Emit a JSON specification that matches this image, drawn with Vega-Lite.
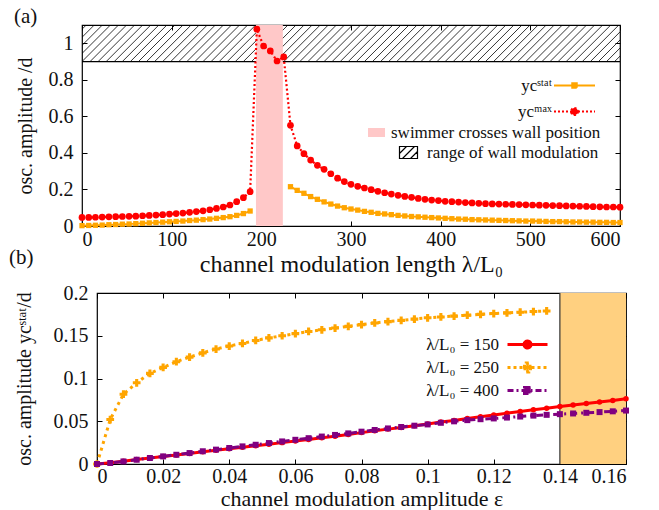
{
  "$schema": "https://vega.github.io/schema/vega-lite/v6.json",
  "padding": {"left": 8, "top": 4, "right": 5, "bottom": 0},
  "background": "white",
  "config": {
    "font": "Liberation Serif",
    "style": {"guide-label": {"font": "Liberation Serif", "fontSize": 20, "fill": "#111"}, "guide-title": {"font": "Liberation Serif"}},
    "view": {"stroke": "black", "strokeWidth": 1.2},
    "axis": {"domain": false, "grid": false, "ticks": true, "tickSize": -5, "tickColor": "black", "tickWidth": 1,
             "labelFont": "Liberation Serif", "labelFontSize": 20, "labelColor": "#111",
             "titleFont": "Liberation Serif", "titleFontSize": 22, "titleFontWeight": "normal", "titleColor": "#111"},
    "legend": {"labelFont": "Liberation Serif", "labelFontSize": 17, "labelColor": "#111", "labelLimit": 500, "padding": 0, "symbolSize": 100, "symbolStrokeWidth": 2, "title": null}
  },
  "datasets": {
    "hatch": [{"l":-36},{"l":-27},{"l":-18},{"l":-9},{"l":0},{"l":9},{"l":18},{"l":27},{"l":36},{"l":45},{"l":54},{"l":63},{"l":72},{"l":81},{"l":90},{"l":99},{"l":108},{"l":117},{"l":126},{"l":135},{"l":144},{"l":153},{"l":162},{"l":171},{"l":180},{"l":189},{"l":198},{"l":207},{"l":216},{"l":225},{"l":234},{"l":243},{"l":252},{"l":261},{"l":270},{"l":279},{"l":288},{"l":297},{"l":306},{"l":315},{"l":324},{"l":333},{"l":342},{"l":351},{"l":360},{"l":369},{"l":378},{"l":387},{"l":396},{"l":405},{"l":414},{"l":423},{"l":432},{"l":441},{"l":450},{"l":459},{"l":468},{"l":477},{"l":486},{"l":495},{"l":504},{"l":513},{"l":522},{"l":531},{"l":540},{"l":549},{"l":558},{"l":567},{"l":576},{"l":585},{"l":594}],
    "a_max": [{"l":0,"v":0.047},{"l":7.5,"v":0.047},{"l":15,"v":0.048},{"l":22.5,"v":0.049},{"l":30,"v":0.05},{"l":37.5,"v":0.051},{"l":45,"v":0.052},{"l":52.5,"v":0.053},{"l":60,"v":0.054},{"l":67.5,"v":0.056},{"l":75,"v":0.058},{"l":82.5,"v":0.06},{"l":90,"v":0.062},{"l":97.5,"v":0.065},{"l":105,"v":0.068},{"l":112.5,"v":0.071},{"l":120,"v":0.075},{"l":127.5,"v":0.079},{"l":135,"v":0.083},{"l":142.5,"v":0.089},{"l":150,"v":0.096},{"l":157.5,"v":0.104},{"l":165,"v":0.115},{"l":172.5,"v":0.133},{"l":180,"v":0.155},{"l":187.5,"v":0.188},{"l":195,"v":1.077},{"l":202.5,"v":0.985},{"l":210,"v":0.958},{"l":217.5,"v":0.903},{"l":225,"v":0.925},{"l":232.5,"v":0.551},{"l":240,"v":0.438},{"l":247.5,"v":0.396},{"l":255,"v":0.361},{"l":262.5,"v":0.332},{"l":270,"v":0.31},{"l":277.5,"v":0.286},{"l":285,"v":0.262},{"l":292.5,"v":0.243},{"l":300,"v":0.228},{"l":307.5,"v":0.217},{"l":315,"v":0.208},{"l":322.5,"v":0.199},{"l":330,"v":0.19},{"l":337.5,"v":0.182},{"l":345,"v":0.175},{"l":352.5,"v":0.168},{"l":360,"v":0.162},{"l":367.5,"v":0.157},{"l":375,"v":0.151},{"l":382.5,"v":0.146},{"l":390,"v":0.142},{"l":397.5,"v":0.139},{"l":405,"v":0.135},{"l":412.5,"v":0.133},{"l":420,"v":0.131},{"l":427.5,"v":0.128},{"l":435,"v":0.126},{"l":442.5,"v":0.124},{"l":450,"v":0.122},{"l":457.5,"v":0.121},{"l":465,"v":0.12},{"l":472.5,"v":0.119},{"l":480,"v":0.118},{"l":487.5,"v":0.117},{"l":495,"v":0.116},{"l":502.5,"v":0.115},{"l":510,"v":0.114},{"l":517.5,"v":0.113},{"l":525,"v":0.112},{"l":532.5,"v":0.111},{"l":540,"v":0.11},{"l":547.5,"v":0.109},{"l":555,"v":0.108},{"l":562.5,"v":0.107},{"l":570,"v":0.106},{"l":577.5,"v":0.105},{"l":585,"v":0.104},{"l":592.5,"v":0.104},{"l":600,"v":0.103}],
    "a_stat": [{"l":0,"v":0.002,"seg":1},{"l":7.5,"v":0.003,"seg":1},{"l":15,"v":0.004,"seg":1},{"l":22.5,"v":0.005,"seg":1},{"l":30,"v":0.007,"seg":1},{"l":37.5,"v":0.008,"seg":1},{"l":45,"v":0.01,"seg":1},{"l":52.5,"v":0.011,"seg":1},{"l":60,"v":0.013,"seg":1},{"l":67.5,"v":0.015,"seg":1},{"l":75,"v":0.017,"seg":1},{"l":82.5,"v":0.019,"seg":1},{"l":90,"v":0.021,"seg":1},{"l":97.5,"v":0.023,"seg":1},{"l":105,"v":0.025,"seg":1},{"l":112.5,"v":0.027,"seg":1},{"l":120,"v":0.03,"seg":1},{"l":127.5,"v":0.032,"seg":1},{"l":135,"v":0.035,"seg":1},{"l":142.5,"v":0.038,"seg":1},{"l":150,"v":0.042,"seg":1},{"l":157.5,"v":0.046,"seg":1},{"l":165,"v":0.051,"seg":1},{"l":172.5,"v":0.058,"seg":1},{"l":180,"v":0.068,"seg":1},{"l":187.5,"v":0.082,"seg":1},
      {"l":232.5,"v":0.215,"seg":2},{"l":240,"v":0.195,"seg":2},{"l":247.5,"v":0.179,"seg":2},{"l":255,"v":0.161,"seg":2},{"l":262.5,"v":0.146,"seg":2},{"l":270,"v":0.132,"seg":2},{"l":277.5,"v":0.12,"seg":2},{"l":285,"v":0.109,"seg":2},{"l":292.5,"v":0.1,"seg":2},{"l":300,"v":0.093,"seg":2},{"l":307.5,"v":0.087,"seg":2},{"l":315,"v":0.08,"seg":2},{"l":322.5,"v":0.075,"seg":2},{"l":330,"v":0.069,"seg":2},{"l":337.5,"v":0.066,"seg":2},{"l":345,"v":0.062,"seg":2},{"l":352.5,"v":0.058,"seg":2},{"l":360,"v":0.055,"seg":2},{"l":367.5,"v":0.052,"seg":2},{"l":375,"v":0.05,"seg":2},{"l":382.5,"v":0.048,"seg":2},{"l":390,"v":0.046,"seg":2},{"l":397.5,"v":0.044,"seg":2},{"l":405,"v":0.042,"seg":2},{"l":412.5,"v":0.04,"seg":2},{"l":420,"v":0.038,"seg":2},{"l":427.5,"v":0.037,"seg":2},{"l":435,"v":0.035,"seg":2},{"l":442.5,"v":0.034,"seg":2},{"l":450,"v":0.033,"seg":2},{"l":457.5,"v":0.032,"seg":2},{"l":465,"v":0.031,"seg":2},{"l":472.5,"v":0.03,"seg":2},{"l":480,"v":0.029,"seg":2},{"l":487.5,"v":0.028,"seg":2},{"l":495,"v":0.027,"seg":2},{"l":502.5,"v":0.027,"seg":2},{"l":510,"v":0.026,"seg":2},{"l":517.5,"v":0.025,"seg":2},{"l":525,"v":0.024,"seg":2},{"l":532.5,"v":0.024,"seg":2},{"l":540,"v":0.023,"seg":2},{"l":547.5,"v":0.022,"seg":2},{"l":555,"v":0.022,"seg":2},{"l":562.5,"v":0.021,"seg":2},{"l":570,"v":0.021,"seg":2},{"l":577.5,"v":0.02,"seg":2},{"l":585,"v":0.02,"seg":2},{"l":592.5,"v":0.019,"seg":2},{"l":600,"v":0.019,"seg":2}],
    "b150": [{"e":0,"v":0},{"e":0.004,"v":0.0015},{"e":0.008,"v":0.0033},{"e":0.012,"v":0.0052},{"e":0.016,"v":0.007},{"e":0.02,"v":0.0088},{"e":0.024,"v":0.0106},{"e":0.028,"v":0.0124},{"e":0.032,"v":0.0142},{"e":0.036,"v":0.016},{"e":0.04,"v":0.0178},{"e":0.044,"v":0.0196},{"e":0.048,"v":0.0214},{"e":0.052,"v":0.0232},{"e":0.056,"v":0.025},{"e":0.06,"v":0.0268},{"e":0.064,"v":0.0287},{"e":0.068,"v":0.0306},{"e":0.072,"v":0.0325},{"e":0.076,"v":0.0345},{"e":0.08,"v":0.0367},{"e":0.084,"v":0.0388},{"e":0.088,"v":0.0408},{"e":0.092,"v":0.0428},{"e":0.096,"v":0.0448},{"e":0.1,"v":0.0469},{"e":0.104,"v":0.049},{"e":0.108,"v":0.051},{"e":0.112,"v":0.0531},{"e":0.116,"v":0.0552},{"e":0.12,"v":0.0573},{"e":0.124,"v":0.0594},{"e":0.128,"v":0.0614},{"e":0.132,"v":0.0634},{"e":0.136,"v":0.0653},{"e":0.14,"v":0.0672},{"e":0.144,"v":0.069},{"e":0.148,"v":0.0708},{"e":0.152,"v":0.0726},{"e":0.156,"v":0.0744},{"e":0.16,"v":0.0762}],
    "b250": [{"e":0,"v":0},{"e":0.004,"v":0.052},{"e":0.008,"v":0.0816},{"e":0.012,"v":0.095},{"e":0.016,"v":0.106},{"e":0.02,"v":0.113},{"e":0.024,"v":0.1196},{"e":0.028,"v":0.125},{"e":0.032,"v":0.13},{"e":0.036,"v":0.1345},{"e":0.04,"v":0.138},{"e":0.044,"v":0.141},{"e":0.048,"v":0.1445},{"e":0.052,"v":0.1475},{"e":0.056,"v":0.15},{"e":0.06,"v":0.1525},{"e":0.064,"v":0.155},{"e":0.068,"v":0.157},{"e":0.072,"v":0.159},{"e":0.076,"v":0.161},{"e":0.08,"v":0.163},{"e":0.084,"v":0.165},{"e":0.088,"v":0.1665},{"e":0.092,"v":0.168},{"e":0.096,"v":0.1695},{"e":0.1,"v":0.171},{"e":0.104,"v":0.172},{"e":0.108,"v":0.173},{"e":0.112,"v":0.174},{"e":0.116,"v":0.175},{"e":0.12,"v":0.176},{"e":0.124,"v":0.1768},{"e":0.128,"v":0.1775},{"e":0.132,"v":0.1783},{"e":0.136,"v":0.179}],
    "b400": [{"e":0,"v":0},{"e":0.004,"v":0.0012},{"e":0.008,"v":0.003},{"e":0.012,"v":0.005},{"e":0.016,"v":0.007},{"e":0.02,"v":0.0089},{"e":0.024,"v":0.0108},{"e":0.028,"v":0.0128},{"e":0.032,"v":0.0149},{"e":0.036,"v":0.0168},{"e":0.04,"v":0.0187},{"e":0.044,"v":0.0206},{"e":0.048,"v":0.0225},{"e":0.052,"v":0.0245},{"e":0.056,"v":0.0264},{"e":0.06,"v":0.0283},{"e":0.064,"v":0.0302},{"e":0.068,"v":0.0321},{"e":0.072,"v":0.034},{"e":0.076,"v":0.0358},{"e":0.08,"v":0.0378},{"e":0.084,"v":0.0398},{"e":0.088,"v":0.0416},{"e":0.092,"v":0.0433},{"e":0.096,"v":0.0448},{"e":0.1,"v":0.0463},{"e":0.104,"v":0.0482},{"e":0.108,"v":0.0499},{"e":0.112,"v":0.0513},{"e":0.116,"v":0.0524},{"e":0.12,"v":0.0533},{"e":0.124,"v":0.0543},{"e":0.128,"v":0.0555},{"e":0.132,"v":0.0566},{"e":0.136,"v":0.0575},{"e":0.14,"v":0.0583},{"e":0.144,"v":0.0591},{"e":0.148,"v":0.0599},{"e":0.152,"v":0.0607},{"e":0.156,"v":0.0616},{"e":0.16,"v":0.0625}]
  },
  "bounds": "flush",
  "spacing": 67,
  "vconcat": [
    {
      "width": 538, "height": 201,
      "title": {"text": "(a)", "anchor": "start", "frame": "group", "dx": -68, "offset": -19, "baseline": "alphabetic", "fontSize": 21, "fontWeight": "normal", "font": "Liberation Serif", "color": "#111"},
      "resolve": {"scale": {"shape": "independent", "fill": "independent", "stroke": "independent", "strokeDash": "independent"}, "axis": {"x": "independent", "y": "independent"}},
      "layer": [
        {"data": {"name": "hatch"}, "mark": {"type": "rule", "clip": true, "x2Offset": 36.5, "color": "#000", "strokeWidth": 0.8},
         "encoding": {"x": {"field": "l", "type": "quantitative", "scale": {"domain": [0, 600], "nice": false, "zero": false}, "axis": null},
                      "x2": {"field": "l"},
                      "y": {"datum": 0.9, "type": "quantitative", "scale": {"domain": [0, 1.1], "nice": false}, "axis": null},
                      "y2": {"datum": 1.1}}},
        {"data": {"values": [{"z": 0}]}, "mark": {"type": "rule", "color": "#000", "strokeWidth": 1.2},
         "encoding": {"y": {"datum": 0.9, "type": "quantitative", "scale": {"domain": [0, 1.1], "nice": false}, "axis": null}}},
        {"data": {"values": [{"l": 194, "l2": 224}]}, "mark": {"type": "rect", "color": "#FFC8C8", "opacity": 1},
         "encoding": {"x": {"field": "l", "type": "quantitative", "scale": {"domain": [0, 600], "nice": false}, "axis": null},
                      "x2": {"field": "l2"},
                      "y": {"datum": 0, "type": "quantitative", "scale": {"domain": [0, 1.1], "nice": false}, "axis": null},
                      "y2": {"datum": 1.1}}},
        {"data": {"name": "a_stat"}, "mark": {"type": "line", "color": "#FFA500", "strokeWidth": 2},
         "encoding": {"x": {"field": "l", "type": "quantitative", "scale": {"domain": [0, 600], "nice": false}, "axis": null},
                      "y": {"field": "v", "type": "quantitative", "scale": {"domain": [0, 1.1], "nice": false}, "axis": null},
                      "detail": {"field": "seg", "type": "nominal"}}},
        {"data": {"name": "a_stat"}, "mark": {"type": "point", "shape": "square", "filled": true, "size": 28, "color": "#FFA500", "opacity": 1},
         "encoding": {"x": {"field": "l", "type": "quantitative", "scale": {"domain": [0, 600], "nice": false}, "axis": null},
                      "y": {"field": "v", "type": "quantitative", "scale": {"domain": [0, 1.1], "nice": false}, "axis": null}}},
        {"data": {"name": "a_max"}, "mark": {"type": "line", "color": "#FF0000", "strokeWidth": 2.2, "strokeDash": [2, 2.5]},
         "encoding": {"x": {"field": "l", "type": "quantitative", "scale": {"domain": [0, 600], "nice": false},
                            "axis": {"orient": "bottom", "values": [0, 100, 200, 300, 400, 500, 600], "labelFont": "Liberation Serif", "labelFontSize": 20, "labelColor": "#111", "labelPadding": 8, "titlePadding": 3, "titleFontSize": 24, "title": "channel modulation length λ/L₀"}},
                      "y": {"field": "v", "type": "quantitative", "scale": {"domain": [0, 1.1], "nice": false},
                            "axis": {"orient": "left", "values": [0, 0.2, 0.4, 0.6, 0.8, 1], "format": "~g", "labelFont": "Liberation Serif", "labelFontSize": 20, "labelColor": "#111", "labelPadding": 14, "titlePadding": 13, "titleFontSize": 20, "title": "osc. amplitude /d"}}}},
        {"data": {"name": "a_max"}, "mark": {"type": "point", "shape": "circle", "filled": true, "size": 45, "color": "#FF0000", "opacity": 1},
         "encoding": {"x": {"field": "l", "type": "quantitative", "scale": {"domain": [0, 600], "nice": false},
                            "axis": {"orient": "top", "values": [0, 100, 200, 300, 400, 500, 600], "labels": false, "title": ""}},
                      "y": {"field": "v", "type": "quantitative", "scale": {"domain": [0, 1.1], "nice": false},
                            "axis": {"orient": "right", "values": [0, 0.2, 0.4, 0.6, 0.8, 1], "labels": false, "title": ""}}}},
        {"data": {"values": [{"k": "ycˢᵗᵃᵗ"}, {"k": "ycᵐᵃˣ"}]}, "transform": [{"filter": "false"}],
         "mark": {"type": "point", "filled": true, "opacity": 1},
         "encoding": {
           "shape": {"field": "k", "type": "nominal", "scale": {"domain": ["ycˢᵗᵃᵗ", "ycᵐᵃˣ"], "range": ["M-4.1,0H4.1M-0.45,-0.45H0.45V0.45H-0.45Z", "M-4.1,0H4.1M0.7,0A0.7,0.7,0,1,1,-0.7,0A0.7,0.7,0,1,1,0.7,0Z"]},
                     "legend": {"orient": "none", "legendX": 484, "legendY": 52, "labelAlign": "right", "labelOffset": -31, "rowPadding": 8, "symbolStrokeWidth": 2, "labelFont": "Liberation Serif", "labelFontSize": 17, "labelColor": "#111"}},
           "fill": {"field": "k", "type": "nominal", "scale": {"domain": ["ycˢᵗᵃᵗ", "ycᵐᵃˣ"], "range": ["#FFA500", "#FF0000"]}},
           "stroke": {"field": "k", "type": "nominal", "scale": {"domain": ["ycˢᵗᵃᵗ", "ycᵐᵃˣ"], "range": ["#FFA500", "#FF0000"]}},
           "strokeDash": {"field": "k", "type": "nominal", "scale": {"domain": ["ycˢᵗᵃᵗ", "ycᵐᵃˣ"], "range": [[1, 0], [2, 2]]}}
         }},
        {"data": {"values": [{"p": "swimmer crosses wall position"}]}, "transform": [{"filter": "false"}],
         "mark": {"type": "point", "filled": true, "opacity": 1},
         "encoding": {
           "shape": {"field": "p", "type": "nominal", "scale": {"domain": ["swimmer crosses wall position"], "range": ["M-1.7,-0.9H1.7V0.9H-1.7Z"]},
                     "legend": {"orient": "none", "legendX": 286, "legendY": 99, "labelAlign": "left", "labelOffset": 6, "symbolStrokeWidth": 0, "labelFont": "Liberation Serif", "labelFontSize": 17, "labelColor": "#111"}},
           "fill": {"field": "p", "type": "nominal", "scale": {"domain": ["swimmer crosses wall position"], "range": ["#FFC8C8"]}}
         }},
        {"data": {"values": [{"h": "range of wall modulation"}]}, "transform": [{"filter": "false"}],
         "mark": {"type": "point", "filled": false, "opacity": 1},
         "encoding": {
           "shape": {"field": "h", "type": "nominal", "scale": {"domain": ["range of wall modulation"], "range": ["M-1.8,-1.2H1.8V1.2H-1.8ZM-1.8,0.2L-0.4,-1.2M-1.2,1.2L1.2,-1.2M0.4,1.2L1.8,-0.2"]},
                     "legend": {"orient": "none", "legendX": 318, "legendY": 119, "labelAlign": "left", "labelOffset": 10, "symbolStrokeWidth": 1.2, "labelFont": "Liberation Serif", "labelFontSize": 17, "labelColor": "#111"}},
           "stroke": {"field": "h", "type": "nominal", "scale": {"domain": ["range of wall modulation"], "range": ["#000000"]}}
         }}
      ]
    },
    {
      "bounds": "flush",
      "spacing": 0,
      "hconcat": [
        {"width": 15, "height": 171, "data": {"values": []}, "mark": {"type": "point"}, "encoding": {}, "view": {"stroke": null}},
        {
          "width": 529, "height": 171,
          "title": {"text": "(b)", "anchor": "start", "frame": "group", "dx": -88, "offset": -2, "baseline": "alphabetic", "fontSize": 21, "fontWeight": "normal", "font": "Liberation Serif", "color": "#111"},
          "resolve": {"scale": {"shape": "independent", "fill": "independent", "stroke": "independent", "strokeDash": "independent"}, "axis": {"x": "independent", "y": "independent"}},
          "layer": [
            {"data": {"values": [{"e": 0.14, "e2": 0.16}]}, "mark": {"type": "rect", "color": "#FFD080", "opacity": 1},
             "encoding": {"x": {"field": "e", "type": "quantitative", "scale": {"domain": [0, 0.16], "nice": false}, "axis": null},
                          "x2": {"field": "e2"},
                          "y": {"datum": 0, "type": "quantitative", "scale": {"domain": [0, 0.2], "nice": false}, "axis": null},
                          "y2": {"datum": 0.2}}},
            {"data": {"values": [{"e": 0.14}]}, "mark": {"type": "rule", "color": "#333", "strokeWidth": 1.2},
             "encoding": {"x": {"field": "e", "type": "quantitative", "scale": {"domain": [0, 0.16], "nice": false}, "axis": null}}},
            {"data": {"name": "b150"}, "mark": {"type": "line", "color": "#FF0000", "strokeWidth": 3},
             "encoding": {"x": {"field": "e", "type": "quantitative", "scale": {"domain": [0, 0.16], "nice": false},
                                "axis": {"orient": "bottom", "values": [0, 0.02, 0.04, 0.06, 0.08, 0.1, 0.12, 0.14, 0.16], "format": "~g", "labelFont": "Liberation Serif", "labelFontSize": 20, "labelColor": "#111", "labelPadding": 7, "titlePadding": 2.5, "titleFontSize": 22, "title": "channel modulation amplitude ε"}},
                          "y": {"field": "v", "type": "quantitative", "scale": {"domain": [0, 0.2], "nice": false},
                                "axis": {"orient": "left", "values": [0, 0.05, 0.1, 0.15, 0.2], "format": "~g", "labelFont": "Liberation Serif", "labelFontSize": 20, "labelColor": "#111", "labelPadding": 14, "titlePadding": 19, "titleFontSize": 20, "title": "osc. amplitude ycˢᵗᵃᵗ/d"}}}},
            {"data": {"name": "b150"}, "mark": {"type": "point", "shape": "circle", "filled": true, "size": 30, "color": "#FF0000", "opacity": 1},
             "encoding": {"x": {"field": "e", "type": "quantitative", "scale": {"domain": [0, 0.16], "nice": false},
                                "axis": {"orient": "top", "values": [0, 0.02, 0.04, 0.06, 0.08, 0.1, 0.12, 0.14, 0.16], "labels": false, "title": ""}},
                          "y": {"field": "v", "type": "quantitative", "scale": {"domain": [0, 0.2], "nice": false},
                                "axis": {"orient": "right", "values": [0, 0.05, 0.1, 0.15, 0.2], "labels": false, "title": ""}}}},
            {"data": {"name": "b250"}, "mark": {"type": "line", "color": "#FFA500", "strokeWidth": 3, "strokeDash": [3, 4]},
             "encoding": {"x": {"field": "e", "type": "quantitative", "scale": {"domain": [0, 0.16], "nice": false}, "axis": null},
                          "y": {"field": "v", "type": "quantitative", "scale": {"domain": [0, 0.2], "nice": false}, "axis": null}}},
            {"data": {"name": "b250"}, "mark": {"type": "point", "shape": "cross", "filled": true, "size": 60, "color": "#FFA500", "opacity": 1},
             "encoding": {"x": {"field": "e", "type": "quantitative", "scale": {"domain": [0, 0.16], "nice": false}, "axis": null},
                          "y": {"field": "v", "type": "quantitative", "scale": {"domain": [0, 0.2], "nice": false}, "axis": null}}},
            {"data": {"name": "b400"}, "mark": {"type": "line", "color": "#800080", "strokeWidth": 3, "strokeDash": [7, 4, 2, 4]},
             "encoding": {"x": {"field": "e", "type": "quantitative", "scale": {"domain": [0, 0.16], "nice": false}, "axis": null},
                          "y": {"field": "v", "type": "quantitative", "scale": {"domain": [0, 0.2], "nice": false}, "axis": null}}},
            {"data": {"name": "b400"}, "mark": {"type": "point", "shape": "square", "filled": true, "size": 36, "color": "#800080", "opacity": 1},
             "encoding": {"x": {"field": "e", "type": "quantitative", "scale": {"domain": [0, 0.16], "nice": false}, "axis": null},
                          "y": {"field": "v", "type": "quantitative", "scale": {"domain": [0, 0.2], "nice": false}, "axis": null}}},
            {"data": {"values": [{"k": "λ/L₀ = 150"}, {"k": "λ/L₀ = 250"}, {"k": "λ/L₀ = 400"}]}, "transform": [{"filter": "false"}],
             "mark": {"type": "point", "filled": true, "opacity": 1},
             "encoding": {
               "shape": {"field": "k", "type": "nominal", "scale": {"domain": ["λ/L₀ = 150", "λ/L₀ = 250", "λ/L₀ = 400"], "range": ["M-4,0H4M0.7,0A0.7,0.7,0,1,1,-0.7,0A0.7,0.7,0,1,1,0.7,0Z", "M-4,0H4M-0.9,-0.25H-0.25V-0.9H0.25V-0.25H0.9V0.25H0.25V0.9H-0.25V0.25H-0.9Z", "M-4,0H4M-0.6,-0.6H0.6V0.6H-0.6Z"]},
                         "legend": {"orient": "none", "legendX": 422, "legendY": 43, "labelAlign": "right", "labelOffset": -37, "rowPadding": 3, "symbolStrokeWidth": 3, "labelFont": "Liberation Serif", "labelFontSize": 17, "labelColor": "#111"}},
               "fill": {"field": "k", "type": "nominal", "scale": {"domain": ["λ/L₀ = 150", "λ/L₀ = 250", "λ/L₀ = 400"], "range": ["#FF0000", "#FFA500", "#800080"]}},
               "stroke": {"field": "k", "type": "nominal", "scale": {"domain": ["λ/L₀ = 150", "λ/L₀ = 250", "λ/L₀ = 400"], "range": ["#FF0000", "#FFA500", "#800080"]}},
               "strokeDash": {"field": "k", "type": "nominal", "scale": {"domain": ["λ/L₀ = 150", "λ/L₀ = 250", "λ/L₀ = 400"], "range": [[1, 0], [3, 3], [6, 3, 2, 3]]}}
             }}
          ]
        }
      ]
    }
  ]
}
